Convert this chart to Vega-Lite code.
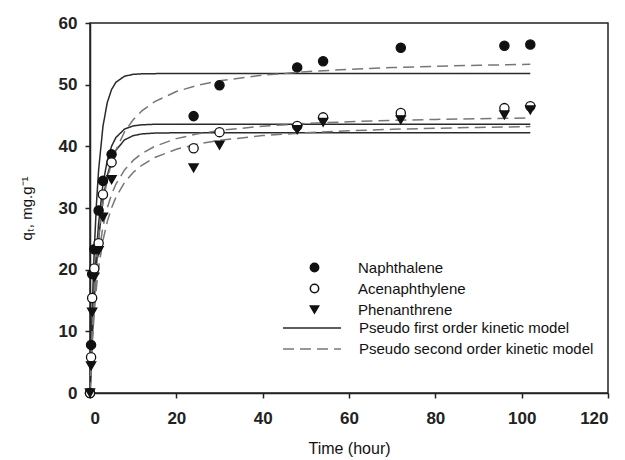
{
  "$schema": "https://vega.github.io/schema/vega-lite/v6.json",
  "width": 518,
  "height": 370,
  "autosize": "none",
  "padding": {"left": 90, "top": 23, "right": 17, "bottom": 67},
  "background": "white",
  "config": {
    "view": {"stroke": "#222", "strokeWidth": 1.5},
    "font": "Liberation Sans",
    "axis": {"grid": false, "domainColor": "#222", "domainWidth": 1.5, "tickColor": "#222", "tickWidth": 1.5, "tickSize": 5, "labelFont": "Liberation Sans", "labelFontSize": 17, "labelFontWeight": "bold", "labelColor": "#222", "titleFont": "Liberation Sans", "titleFontSize": 15, "titleFontWeight": "normal", "titleColor": "#111"},
    "legend": {"labelFont": "Liberation Sans", "labelFontSize": 15, "labelColor": "#111", "padding": 0, "labelLimit": 0}
  },
  "datasets": {
    "pts": [
      {"compound": "Naphthalene", "t": 0, "q": 0}, {"compound": "Naphthalene", "t": 0.25, "q": 7.8}, {"compound": "Naphthalene", "t": 0.5, "q": 19.3}, {"compound": "Naphthalene", "t": 1, "q": 23.3}, {"compound": "Naphthalene", "t": 2, "q": 29.6}, {"compound": "Naphthalene", "t": 3, "q": 34.4}, {"compound": "Naphthalene", "t": 5, "q": 38.7}, {"compound": "Naphthalene", "t": 24, "q": 44.9}, {"compound": "Naphthalene", "t": 30, "q": 49.9}, {"compound": "Naphthalene", "t": 48, "q": 52.8}, {"compound": "Naphthalene", "t": 54, "q": 53.8}, {"compound": "Naphthalene", "t": 72, "q": 56.0}, {"compound": "Naphthalene", "t": 96, "q": 56.3}, {"compound": "Naphthalene", "t": 102, "q": 56.5},
      {"compound": "Acenaphthylene", "t": 0, "q": 0}, {"compound": "Acenaphthylene", "t": 0.25, "q": 5.8}, {"compound": "Acenaphthylene", "t": 0.5, "q": 15.4}, {"compound": "Acenaphthylene", "t": 1, "q": 20.2}, {"compound": "Acenaphthylene", "t": 2, "q": 24.3}, {"compound": "Acenaphthylene", "t": 3, "q": 32.2}, {"compound": "Acenaphthylene", "t": 5, "q": 37.4}, {"compound": "Acenaphthylene", "t": 24, "q": 39.7}, {"compound": "Acenaphthylene", "t": 30, "q": 42.3}, {"compound": "Acenaphthylene", "t": 48, "q": 43.3}, {"compound": "Acenaphthylene", "t": 54, "q": 44.7}, {"compound": "Acenaphthylene", "t": 72, "q": 45.4}, {"compound": "Acenaphthylene", "t": 96, "q": 46.2}, {"compound": "Acenaphthylene", "t": 102, "q": 46.5},
      {"compound": "Phenanthrene", "t": 0, "q": 0}, {"compound": "Phenanthrene", "t": 0.25, "q": 4.4}, {"compound": "Phenanthrene", "t": 0.5, "q": 13.1}, {"compound": "Phenanthrene", "t": 1, "q": 18.8}, {"compound": "Phenanthrene", "t": 2, "q": 23.1}, {"compound": "Phenanthrene", "t": 3, "q": 28.5}, {"compound": "Phenanthrene", "t": 5, "q": 34.6}, {"compound": "Phenanthrene", "t": 24, "q": 36.5}, {"compound": "Phenanthrene", "t": 30, "q": 40.2}, {"compound": "Phenanthrene", "t": 48, "q": 42.7}, {"compound": "Phenanthrene", "t": 54, "q": 43.9}, {"compound": "Phenanthrene", "t": 72, "q": 44.3}, {"compound": "Phenanthrene", "t": 96, "q": 45.1}, {"compound": "Phenanthrene", "t": 102, "q": 45.9}
    ],
    "fits": [
      {"compound": "Naphthalene", "model": "Pseudo first order kinetic model", "t": 0, "q": 0},
      {"compound": "Naphthalene", "model": "Pseudo first order kinetic model", "t": 0.25, "q": 7.21},
      {"compound": "Naphthalene", "model": "Pseudo first order kinetic model", "t": 0.5, "q": 13.43},
      {"compound": "Naphthalene", "model": "Pseudo first order kinetic model", "t": 1, "q": 23.37},
      {"compound": "Naphthalene", "model": "Pseudo first order kinetic model", "t": 1.5, "q": 30.74},
      {"compound": "Naphthalene", "model": "Pseudo first order kinetic model", "t": 2, "q": 36.2},
      {"compound": "Naphthalene", "model": "Pseudo first order kinetic model", "t": 3, "q": 43.24},
      {"compound": "Naphthalene", "model": "Pseudo first order kinetic model", "t": 4, "q": 47.1},
      {"compound": "Naphthalene", "model": "Pseudo first order kinetic model", "t": 5, "q": 49.22},
      {"compound": "Naphthalene", "model": "Pseudo first order kinetic model", "t": 6, "q": 50.39},
      {"compound": "Naphthalene", "model": "Pseudo first order kinetic model", "t": 8, "q": 51.37},
      {"compound": "Naphthalene", "model": "Pseudo first order kinetic model", "t": 10, "q": 51.67},
      {"compound": "Naphthalene", "model": "Pseudo first order kinetic model", "t": 12, "q": 51.76},
      {"compound": "Naphthalene", "model": "Pseudo first order kinetic model", "t": 15, "q": 51.79},
      {"compound": "Naphthalene", "model": "Pseudo first order kinetic model", "t": 20, "q": 51.8},
      {"compound": "Naphthalene", "model": "Pseudo first order kinetic model", "t": 102, "q": 51.8},
      {"compound": "Acenaphthylene", "model": "Pseudo first order kinetic model", "t": 0, "q": 0},
      {"compound": "Acenaphthylene", "model": "Pseudo first order kinetic model", "t": 0.25, "q": 5.12},
      {"compound": "Acenaphthylene", "model": "Pseudo first order kinetic model", "t": 0.5, "q": 9.64},
      {"compound": "Acenaphthylene", "model": "Pseudo first order kinetic model", "t": 1, "q": 17.16},
      {"compound": "Acenaphthylene", "model": "Pseudo first order kinetic model", "t": 1.5, "q": 23.0},
      {"compound": "Acenaphthylene", "model": "Pseudo first order kinetic model", "t": 2, "q": 27.56},
      {"compound": "Acenaphthylene", "model": "Pseudo first order kinetic model", "t": 3, "q": 33.87},
      {"compound": "Acenaphthylene", "model": "Pseudo first order kinetic model", "t": 4, "q": 37.7},
      {"compound": "Acenaphthylene", "model": "Pseudo first order kinetic model", "t": 5, "q": 40.02},
      {"compound": "Acenaphthylene", "model": "Pseudo first order kinetic model", "t": 6, "q": 41.43},
      {"compound": "Acenaphthylene", "model": "Pseudo first order kinetic model", "t": 8, "q": 42.8},
      {"compound": "Acenaphthylene", "model": "Pseudo first order kinetic model", "t": 10, "q": 43.31},
      {"compound": "Acenaphthylene", "model": "Pseudo first order kinetic model", "t": 12, "q": 43.49},
      {"compound": "Acenaphthylene", "model": "Pseudo first order kinetic model", "t": 15, "q": 43.58},
      {"compound": "Acenaphthylene", "model": "Pseudo first order kinetic model", "t": 20, "q": 43.6},
      {"compound": "Acenaphthylene", "model": "Pseudo first order kinetic model", "t": 102, "q": 43.6},
      {"compound": "Phenanthrene", "model": "Pseudo first order kinetic model", "t": 0, "q": 0},
      {"compound": "Phenanthrene", "model": "Pseudo first order kinetic model", "t": 0.25, "q": 4.49},
      {"compound": "Phenanthrene", "model": "Pseudo first order kinetic model", "t": 0.5, "q": 8.5},
      {"compound": "Phenanthrene", "model": "Pseudo first order kinetic model", "t": 1, "q": 15.29},
      {"compound": "Phenanthrene", "model": "Pseudo first order kinetic model", "t": 1.5, "q": 20.71},
      {"compound": "Phenanthrene", "model": "Pseudo first order kinetic model", "t": 2, "q": 25.04},
      {"compound": "Phenanthrene", "model": "Pseudo first order kinetic model", "t": 3, "q": 31.26},
      {"compound": "Phenanthrene", "model": "Pseudo first order kinetic model", "t": 4, "q": 35.22},
      {"compound": "Phenanthrene", "model": "Pseudo first order kinetic model", "t": 5, "q": 37.75},
      {"compound": "Phenanthrene", "model": "Pseudo first order kinetic model", "t": 6, "q": 39.36},
      {"compound": "Phenanthrene", "model": "Pseudo first order kinetic model", "t": 8, "q": 41.05},
      {"compound": "Phenanthrene", "model": "Pseudo first order kinetic model", "t": 10, "q": 41.73},
      {"compound": "Phenanthrene", "model": "Pseudo first order kinetic model", "t": 12, "q": 42.01},
      {"compound": "Phenanthrene", "model": "Pseudo first order kinetic model", "t": 15, "q": 42.15},
      {"compound": "Phenanthrene", "model": "Pseudo first order kinetic model", "t": 20, "q": 42.2},
      {"compound": "Phenanthrene", "model": "Pseudo first order kinetic model", "t": 102, "q": 42.2},
      {"compound": "Naphthalene", "model": "Pseudo second order kinetic model", "t": 0, "q": 0},
      {"compound": "Naphthalene", "model": "Pseudo second order kinetic model", "t": 0.25, "q": 5.35},
      {"compound": "Naphthalene", "model": "Pseudo second order kinetic model", "t": 0.5, "q": 9.74},
      {"compound": "Naphthalene", "model": "Pseudo second order kinetic model", "t": 1, "q": 16.52},
      {"compound": "Naphthalene", "model": "Pseudo second order kinetic model", "t": 1.5, "q": 21.52},
      {"compound": "Naphthalene", "model": "Pseudo second order kinetic model", "t": 2, "q": 25.36},
      {"compound": "Naphthalene", "model": "Pseudo second order kinetic model", "t": 3, "q": 30.86},
      {"compound": "Naphthalene", "model": "Pseudo second order kinetic model", "t": 4, "q": 34.61},
      {"compound": "Naphthalene", "model": "Pseudo second order kinetic model", "t": 5, "q": 37.33},
      {"compound": "Naphthalene", "model": "Pseudo second order kinetic model", "t": 6, "q": 39.4},
      {"compound": "Naphthalene", "model": "Pseudo second order kinetic model", "t": 8, "q": 42.34},
      {"compound": "Naphthalene", "model": "Pseudo second order kinetic model", "t": 10, "q": 44.31},
      {"compound": "Naphthalene", "model": "Pseudo second order kinetic model", "t": 12, "q": 45.74},
      {"compound": "Naphthalene", "model": "Pseudo second order kinetic model", "t": 15, "q": 47.26},
      {"compound": "Naphthalene", "model": "Pseudo second order kinetic model", "t": 20, "q": 48.88},
      {"compound": "Naphthalene", "model": "Pseudo second order kinetic model", "t": 25, "q": 49.91},
      {"compound": "Naphthalene", "model": "Pseudo second order kinetic model", "t": 30, "q": 50.62},
      {"compound": "Naphthalene", "model": "Pseudo second order kinetic model", "t": 40, "q": 51.54},
      {"compound": "Naphthalene", "model": "Pseudo second order kinetic model", "t": 50, "q": 52.1},
      {"compound": "Naphthalene", "model": "Pseudo second order kinetic model", "t": 60, "q": 52.49},
      {"compound": "Naphthalene", "model": "Pseudo second order kinetic model", "t": 70, "q": 52.77},
      {"compound": "Naphthalene", "model": "Pseudo second order kinetic model", "t": 80, "q": 52.98},
      {"compound": "Naphthalene", "model": "Pseudo second order kinetic model", "t": 90, "q": 53.14},
      {"compound": "Naphthalene", "model": "Pseudo second order kinetic model", "t": 102, "q": 53.3},
      {"compound": "Acenaphthylene", "model": "Pseudo second order kinetic model", "t": 0, "q": 0},
      {"compound": "Acenaphthylene", "model": "Pseudo second order kinetic model", "t": 0.25, "q": 4.92},
      {"compound": "Acenaphthylene", "model": "Pseudo second order kinetic model", "t": 0.5, "q": 8.88},
      {"compound": "Acenaphthylene", "model": "Pseudo second order kinetic model", "t": 1, "q": 14.86},
      {"compound": "Acenaphthylene", "model": "Pseudo second order kinetic model", "t": 1.5, "q": 19.16},
      {"compound": "Acenaphthylene", "model": "Pseudo second order kinetic model", "t": 2, "q": 22.4},
      {"compound": "Acenaphthylene", "model": "Pseudo second order kinetic model", "t": 3, "q": 26.97},
      {"compound": "Acenaphthylene", "model": "Pseudo second order kinetic model", "t": 4, "q": 30.02},
      {"compound": "Acenaphthylene", "model": "Pseudo second order kinetic model", "t": 5, "q": 32.22},
      {"compound": "Acenaphthylene", "model": "Pseudo second order kinetic model", "t": 6, "q": 33.86},
      {"compound": "Acenaphthylene", "model": "Pseudo second order kinetic model", "t": 8, "q": 36.18},
      {"compound": "Acenaphthylene", "model": "Pseudo second order kinetic model", "t": 10, "q": 37.72},
      {"compound": "Acenaphthylene", "model": "Pseudo second order kinetic model", "t": 12, "q": 38.83},
      {"compound": "Acenaphthylene", "model": "Pseudo second order kinetic model", "t": 15, "q": 40.0},
      {"compound": "Acenaphthylene", "model": "Pseudo second order kinetic model", "t": 20, "q": 41.25},
      {"compound": "Acenaphthylene", "model": "Pseudo second order kinetic model", "t": 25, "q": 42.03},
      {"compound": "Acenaphthylene", "model": "Pseudo second order kinetic model", "t": 30, "q": 42.57},
      {"compound": "Acenaphthylene", "model": "Pseudo second order kinetic model", "t": 40, "q": 43.27},
      {"compound": "Acenaphthylene", "model": "Pseudo second order kinetic model", "t": 50, "q": 43.7},
      {"compound": "Acenaphthylene", "model": "Pseudo second order kinetic model", "t": 60, "q": 43.99},
      {"compound": "Acenaphthylene", "model": "Pseudo second order kinetic model", "t": 70, "q": 44.2},
      {"compound": "Acenaphthylene", "model": "Pseudo second order kinetic model", "t": 80, "q": 44.36},
      {"compound": "Acenaphthylene", "model": "Pseudo second order kinetic model", "t": 90, "q": 44.48},
      {"compound": "Acenaphthylene", "model": "Pseudo second order kinetic model", "t": 102, "q": 44.6},
      {"compound": "Phenanthrene", "model": "Pseudo second order kinetic model", "t": 0, "q": 0},
      {"compound": "Phenanthrene", "model": "Pseudo second order kinetic model", "t": 0.25, "q": 4.23},
      {"compound": "Phenanthrene", "model": "Pseudo second order kinetic model", "t": 0.5, "q": 7.72},
      {"compound": "Phenanthrene", "model": "Pseudo second order kinetic model", "t": 1, "q": 13.15},
      {"compound": "Phenanthrene", "model": "Pseudo second order kinetic model", "t": 1.5, "q": 17.17},
      {"compound": "Phenanthrene", "model": "Pseudo second order kinetic model", "t": 2, "q": 20.27},
      {"compound": "Phenanthrene", "model": "Pseudo second order kinetic model", "t": 3, "q": 24.73},
      {"compound": "Phenanthrene", "model": "Pseudo second order kinetic model", "t": 4, "q": 27.79},
      {"compound": "Phenanthrene", "model": "Pseudo second order kinetic model", "t": 5, "q": 30.02},
      {"compound": "Phenanthrene", "model": "Pseudo second order kinetic model", "t": 6, "q": 31.72},
      {"compound": "Phenanthrene", "model": "Pseudo second order kinetic model", "t": 8, "q": 34.13},
      {"compound": "Phenanthrene", "model": "Pseudo second order kinetic model", "t": 10, "q": 35.76},
      {"compound": "Phenanthrene", "model": "Pseudo second order kinetic model", "t": 12, "q": 36.93},
      {"compound": "Phenanthrene", "model": "Pseudo second order kinetic model", "t": 15, "q": 38.19},
      {"compound": "Phenanthrene", "model": "Pseudo second order kinetic model", "t": 20, "q": 39.53},
      {"compound": "Phenanthrene", "model": "Pseudo second order kinetic model", "t": 25, "q": 40.39},
      {"compound": "Phenanthrene", "model": "Pseudo second order kinetic model", "t": 30, "q": 40.97},
      {"compound": "Phenanthrene", "model": "Pseudo second order kinetic model", "t": 40, "q": 41.74},
      {"compound": "Phenanthrene", "model": "Pseudo second order kinetic model", "t": 50, "q": 42.21},
      {"compound": "Phenanthrene", "model": "Pseudo second order kinetic model", "t": 60, "q": 42.53},
      {"compound": "Phenanthrene", "model": "Pseudo second order kinetic model", "t": 70, "q": 42.76},
      {"compound": "Phenanthrene", "model": "Pseudo second order kinetic model", "t": 80, "q": 42.93},
      {"compound": "Phenanthrene", "model": "Pseudo second order kinetic model", "t": 90, "q": 43.07},
      {"compound": "Phenanthrene", "model": "Pseudo second order kinetic model", "t": 102, "q": 43.2}
    ]
  },
  "encoding": {
    "x": {"field": "t", "type": "quantitative", "scale": {"domain": [0, 120], "nice": false, "zero": false}, "axis": {"title": "Time (hour)", "titleFontSize": 16, "values": [0, 20, 40, 60, 80, 100, 120], "labelPadding": 12, "titlePadding": 14}},
    "y": {"field": "q", "type": "quantitative", "scale": {"domain": [0, 60], "nice": false}, "axis": {"title": "qₜ, mg.g⁻¹", "values": [0, 10, 20, 30, 40, 50, 60], "labelPadding": 8, "titlePadding": 24}}
  },
  "layer": [
    {
      "data": {"name": "fits"},
      "mark": {"type": "line", "strokeWidth": 1.5, "clip": true},
      "encoding": {
        "detail": {"field": "compound"},
        "color": {"field": "model", "type": "nominal", "scale": {"domain": ["Pseudo first order kinetic model", "Pseudo second order kinetic model"], "range": ["#2a2a2a", "#777777"]}, "legend": {"title": null, "orient": "none", "legendX": 214, "legendY": 297, "symbolType": "M-4,0H4", "symbolSize": 210, "symbolStrokeWidth": 1.5, "labelOffset": 39, "rowPadding": 5}},
        "strokeDash": {"field": "model", "type": "nominal", "scale": {"domain": ["Pseudo first order kinetic model", "Pseudo second order kinetic model"], "range": [[1, 0], [11, 6]]}, "legend": {"title": null, "orient": "none", "legendX": 214, "legendY": 297, "symbolType": "M-4,0H4", "symbolSize": 210, "symbolStrokeWidth": 1.5, "labelOffset": 39, "rowPadding": 5}}
      }
    },
    {
      "data": {"name": "pts"},
      "mark": {"type": "point", "filled": false, "size": 85, "stroke": "#111", "strokeWidth": 1.3, "opacity": 1},
      "encoding": {
        "shape": {"field": "compound", "type": "nominal", "scale": {"domain": ["Naphthalene", "Acenaphthylene", "Phenanthrene"], "range": ["circle", "circle", "triangle-down"]}, "legend": {"title": null, "orient": "none", "legendX": 217, "legendY": 237, "labelOffset": 36, "rowPadding": 5, "symbolSize": 70, "encode": {"symbols": {"update": {"stroke": {"value": "#111"}, "strokeWidth": {"value": 1.3}}}}}},
        "fill": {"field": "compound", "type": "nominal", "scale": {"domain": ["Naphthalene", "Acenaphthylene", "Phenanthrene"], "range": ["#111111", "#ffffff", "#111111"]}, "legend": {"title": null, "orient": "none", "legendX": 217, "legendY": 237, "labelOffset": 36, "rowPadding": 5, "symbolSize": 70, "encode": {"symbols": {"update": {"stroke": {"value": "#111"}, "strokeWidth": {"value": 1.3}}}}}}
      }
    }
  ]
}
